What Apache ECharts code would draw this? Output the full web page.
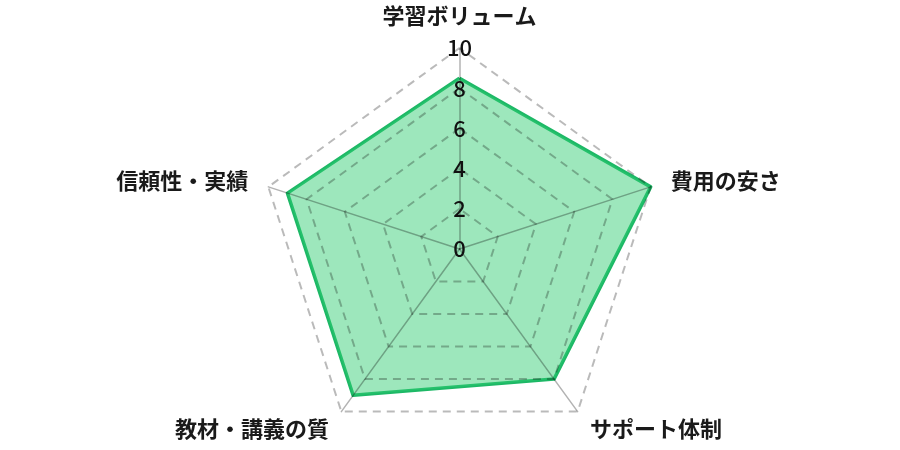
<!DOCTYPE html>
<html>
<head>
<meta charset="utf-8">
<script src="https://cdn.jsdelivr.net/npm/echarts@6/dist/echarts.min.js"></script>
<style>
  html, body { margin: 0; padding: 0; background: #fff; }
  #radar_chart { width: 900px; height: 450px; }
</style>
</head>
<body>
<div id="radar_chart"></div>
<script>
// 評価項目と点数（反時計回りに並ぶので、上から左回りの順）
var indicators = ['学習ボリューム', '信頼性・実績', '教材・講義の質', 'サポート体制', '費用の安さ'];
var scores = [8.5, 9, 9, 8, 10];
var maxScore = 10;

var myChart = echarts.init(document.getElementById('radar_chart'));

var option = {
  textStyle: {
    fontFamily: '"Noto Sans CJK JP", "Noto Sans", sans-serif'
  },
  radar: {
    z: 3,
    center: [459.5, 249],
    radius: 201,
    startAngle: 90,
    splitNumber: 5,
    shape: 'polygon',
    nameGap: 21,
    indicator: indicators.map(function (name, i) {
      var ind = { name: name, max: maxScore, min: 0 };
      // 目盛りは最初の軸だけ
      if (i == 0) {
        ind.axisLabel = { show: true };
      }
      return ind;
    }),
    axisName: {
      color: '#1a1a1a',
      fontSize: 22,
      fontWeight: 'bold'
    },
    axisLabel: {
      show: false,
      color: '#111',
      fontSize: 22,
      fontWeight: 500,
      margin: 0,
      align: 'center',
      verticalAlign: 'middle'
    },
    axisLine: {
      lineStyle: { color: 'rgba(0,0,0,0.3)', width: 1.5 }
    },
    splitLine: {
      lineStyle: { color: 'rgba(0,0,0,0.27)', width: 2, type: [8, 6] }
    },
    splitArea: { show: false }
  },
  series: [{
    type: 'radar',
    symbol: 'none',
    data: [{
      value: scores,
      lineStyle: { color: '#1db866', width: 3.5 },
      areaStyle: { color: '#2ecc71', opacity: 0.47 }
    }]
  }]
};

myChart.setOption(option);
</script>
</body>
</html>
